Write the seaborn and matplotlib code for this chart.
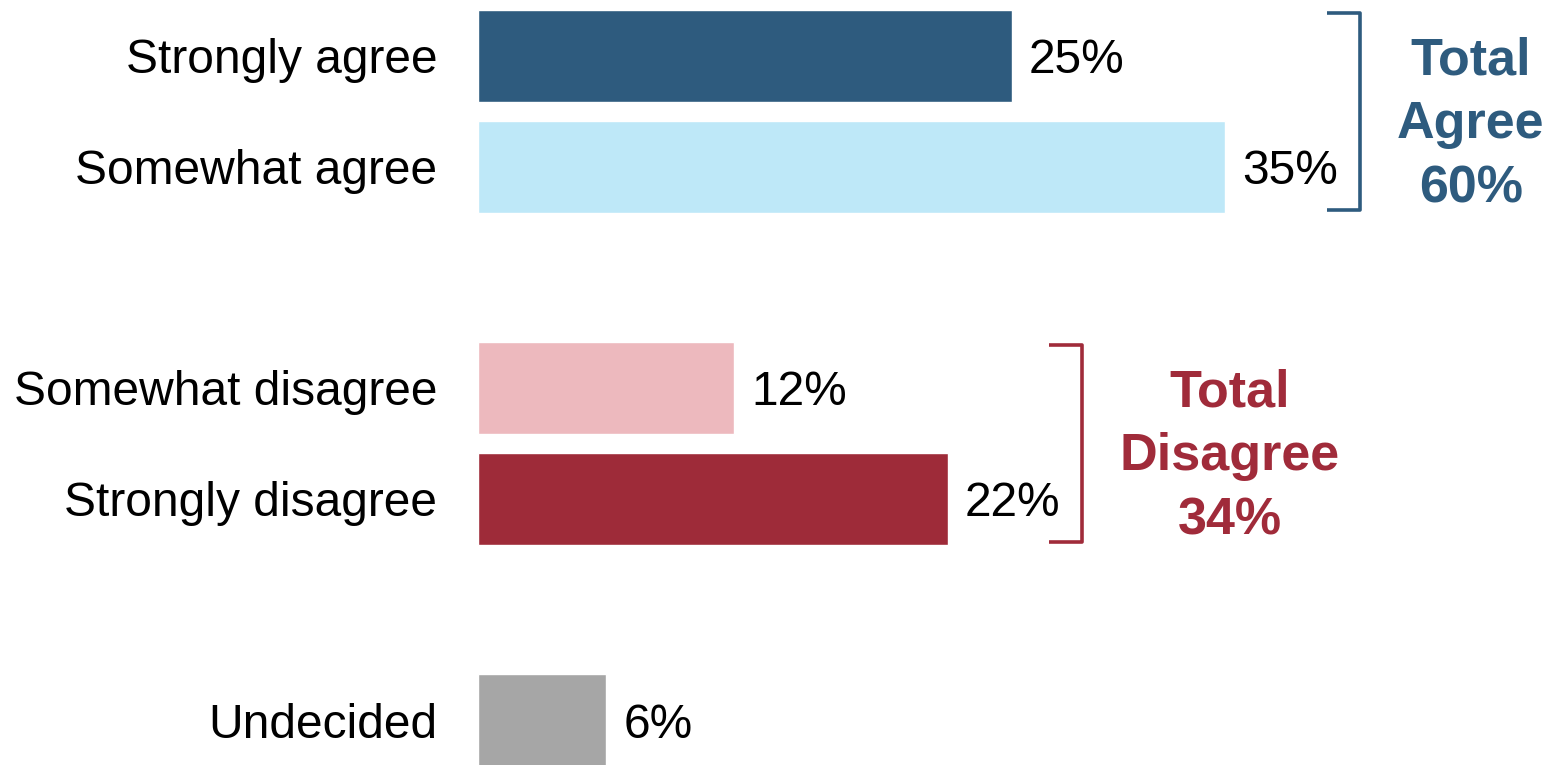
"""Survey agreement bar chart with grouped totals."""

import matplotlib

matplotlib.use("Agg")
import matplotlib.pyplot as plt
import pandas as pd
import seaborn as sns

categories = [
    "Strongly agree",
    "Somewhat agree",
    "Somewhat disagree",
    "Strongly disagree",
    "Undecided",
]
values = [25, 35, 12, 22, 6]
positions = [0, 1, 3, 4, 6]
bar_colors = ["#2E5B7E", "#BEE8F8", "#EDB9BE", "#9E2B39", "#A6A6A6"]

agree_idx = [0, 1]
disagree_idx = [2, 3]
agree_color = "#2E5B7E"
disagree_color = "#A02B3A"

sns.set_theme(style="white")
plt.rcParams["font.family"] = ["Liberation Sans", "DejaVu Sans"]

df = pd.DataFrame({"category": categories, "value": values, "pos": positions})

fig = plt.figure(figsize=(15.55, 7.65), dpi=100)
ax = fig.add_axes([478 / 1555, 0, 1 - 478 / 1555, 1])

sns.barplot(
    data=df,
    x="value",
    y="pos",
    hue="category",
    palette=dict(zip(categories, bar_colors)),
    orient="h",
    native_scale=True,
    width=0.83,
    legend=False,
    saturation=1,
    ax=ax,
)

ax.set_xlim(0, (1555 - 478) / 21.35)
ax.set_ylim(6 + 45 / 110.67, -56 / 110.67)
ax.axis("off")

# category labels and value labels
for cat, val, pos in zip(categories, values, positions):
    ax.text(-1.9, pos, cat, ha="right", va="center_baseline", fontsize=34.5, color="black")
    ax.text(val + 0.8, pos, f"{val}%", ha="left", va="center_baseline", fontsize=34.5,
            color="black")


def bracket(idx, color, text, text_x, offset=6.3):
    top = positions[idx[0]] - 0.39
    bottom = positions[idx[-1]] + 0.39
    x = max(values[i] for i in idx) + offset
    tick = 1.55
    ax.plot(
        [x - tick, x, x, x - tick],
        [top, top, bottom, bottom],
        color=color,
        lw=2.6,
        solid_joinstyle="round",
        solid_capstyle="butt",
        clip_on=False,
    )
    total = sum(values[i] for i in idx)
    mid = (positions[idx[0]] + positions[idx[-1]]) / 2 + 0.07
    for k, line in enumerate(["Total", text, f"{total}%"]):
        ax.text(
            text_x,
            mid + (k - 1) * 0.578,
            line,
            ha="center",
            va="center_baseline",
            fontsize=37.5,
            fontweight="bold",
            color=color,
        )


bracket(agree_idx, agree_color, "Agree", 46.5)
bracket(disagree_idx, disagree_color, "Disagree", 35.2)

fig.savefig("out.png", dpi=100)
